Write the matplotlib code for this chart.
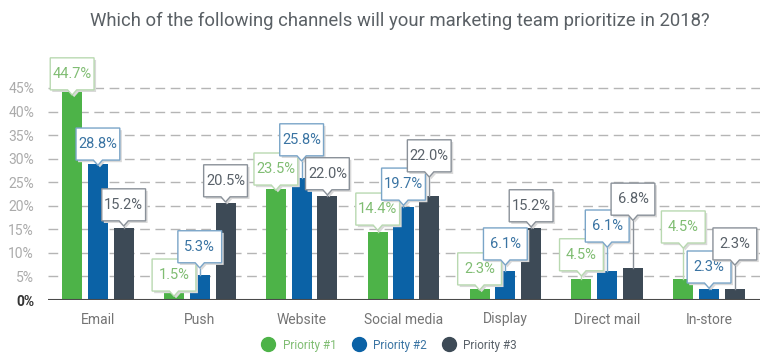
import matplotlib
matplotlib.use("Agg")
import matplotlib.pyplot as plt
from matplotlib.patches import Polygon
from matplotlib.lines import Line2D

plt.rcParams['font.family'] = ['Roboto', 'DejaVu Sans']

# chart data
categories = ['Email', 'Push', 'Website', 'Social media', 'Display', 'Direct mail', 'In-store']
series_names = ['Priority #1', 'Priority #2', 'Priority #3']
priority1 = [44.7, 1.5, 23.5, 14.4, 2.3, 4.5, 4.5]
priority2 = [28.8, 5.3, 25.8, 19.7, 6.1, 6.1, 2.3]
priority3 = [15.2, 20.5, 22.0, 22.0, 15.2, 6.8, 2.3]
yticks = [0, 5, 10, 15, 20, 25, 30, 35, 40, 45]

# where the bottom of each callout box sits (in % units), per series
box_bottom = [
    [44.6, 1.9, 24.4, 15.9, 3.2, 6.2, 12.1],
    [29.7, 7.9, 30.6, 21.2, 8.5, 12.3, 3.6],
    [16.8, 21.9, 23.4, 27.2, 16.6, 18.0, 8.5],
]

bar_colors = ['#4db348', '#0b62a6', '#3d4a56']
text_colors = ['#80bd73', '#3a74a3', '#596169']
edge_colors = ['#b9d9b1', '#7aa5c8', '#8a9199']

fig = plt.figure(figsize=(7.8, 3.64), dpi=100)
ax = fig.add_axes([48 / 780, 64 / 364, 712 / 780, 245 / 364])

W, H = 0.43, 6.8      # callout box size
PW, PH = 0.09, 1.1    # pointer size
SX, SY = 0.02, 0.45   # shadow offset


def callout(x, val, bottom, text, tc, ec, z):
    l, r, t = x - W / 2, x + W / 2, bottom + H
    tip = bottom - PH
    verts = [(l, bottom), (x - PW / 2, bottom), (x, tip), (x + PW / 2, bottom),
             (r, bottom), (r, t), (l, t)]
    shadow = [(vx + SX, vy - SY) for vx, vy in verts]
    ax.add_patch(Polygon(shadow, closed=True, fc='#d9d9d9', ec='none', zorder=z - 0.2))
    ax.add_patch(Polygon(verts, closed=True, fc='white', ec=ec, lw=1.0, zorder=z))
    if tip > val:
        ax.plot([x, x], [val, tip], color=ec, lw=1.0, zorder=z - 0.3)
    ax.text(x, bottom + H / 2, text, ha='center', va='center', color=tc,
            fontsize=10.5, zorder=z + 0.1)


all_series = [priority1, priority2, priority3]
for j, vals in enumerate(all_series):
    xs = [i + (j - 1) * 0.253 for i in range(len(categories))]
    ax.bar(xs, vals, width=0.197, color=bar_colors[j], zorder=2)
    for i, v in enumerate(vals):
        callout(xs[i], v, box_bottom[j][i], f'{v:.1f}%', text_colors[j],
                edge_colors[j], 4 + j)

ax.set_xlim(-0.49, 6.5)
ax.set_ylim(0, 52)

for y in yticks[1:]:
    ax.axhline(y, color='#b5b5b5', lw=1.0, ls=(0, (7, 4)), zorder=1)
ax.axhline(0, color='#4a4a4a', lw=1.5, zorder=3)

for s in ax.spines.values():
    s.set_visible(False)
ax.set_yticks(yticks)
ax.set_yticklabels([f'{y}%' for y in yticks])
for lab in ax.get_yticklabels():
    lab.set_color('#ababab')
    lab.set_fontsize(10)
ax.get_yticklabels()[0].set_color('#333333')
ax.get_yticklabels()[0].set_fontweight('bold')
ax.tick_params(axis='y', length=0, pad=10)
ax.set_xticks(range(len(categories)))
ax.set_xticklabels(categories, color='#747474', fontsize=10)
ax.tick_params(axis='x', length=0, pad=9)

fig.text(0.512, 1 - 21 / 364, 'Which of the following channels will your marketing team prioritize in 2018?',
         ha='center', va='center', fontsize=13.3, color='#5a6065')

handles = [Line2D([], [], marker='o', ls='none', markersize=10, color=c) for c in bar_colors]
fig.legend(handles, series_names, loc='center', bbox_to_anchor=(0.496, 1 - 345 / 364),
           ncol=3, frameon=False, labelcolor=text_colors,
           handletextpad=0.2, columnspacing=0.9, prop={'size': 8.5})

fig.savefig('out.png', dpi=100)
